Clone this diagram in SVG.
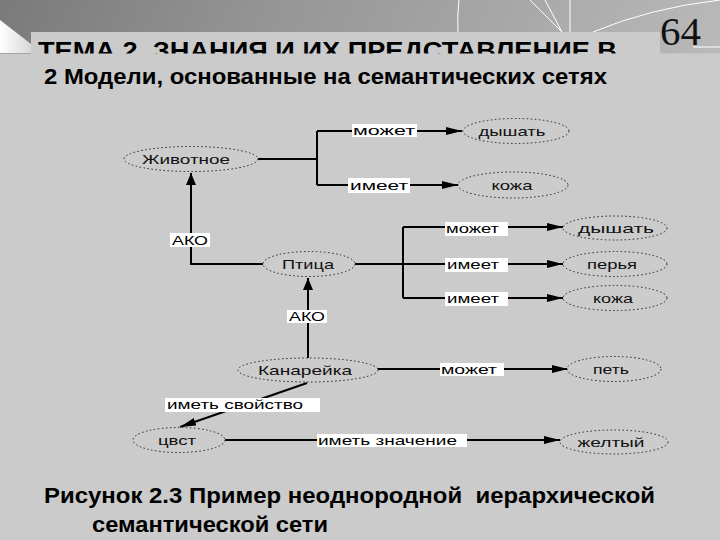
<svg xmlns="http://www.w3.org/2000/svg" width="720" height="540" viewBox="0 0 720 540">
<defs>
  <linearGradient id="bg" x1="0" y1="0" x2="1" y2="0.3">
    <stop offset="0" stop-color="#7a7a7a"/>
    <stop offset="0.35" stop-color="#959595"/>
    <stop offset="0.7" stop-color="#aaaaaa"/>
    <stop offset="1" stop-color="#bdbdbd"/>
  </linearGradient>
  <linearGradient id="tri" x1="0" y1="0" x2="1" y2="0">
    <stop offset="0" stop-color="#ffffff"/>
    <stop offset="1" stop-color="#d8d8d8"/>
  </linearGradient>
  <marker id="arr" viewBox="0 0 16 8" refX="16" refY="4" markerWidth="16" markerHeight="8" markerUnits="userSpaceOnUse" orient="auto">
    <path d="M0,0 L16,4 L0,8 z" fill="#000"/>
  </marker>
  <marker id="ako" viewBox="0 0 12 10" refX="12" refY="5" markerWidth="12" markerHeight="10" markerUnits="userSpaceOnUse" orient="auto">
    <path d="M0,0 L12,5 L0,10 z" fill="#000"/>
  </marker>
  <style>
    .node ellipse { fill: #cccccc; stroke: #222; stroke-width: 1; stroke-dasharray: 1.5 2.5; }
    .nt { font-family: "Liberation Sans", Arial, sans-serif; font-size: 13px; fill: #111; text-anchor: middle; }
    .lbl rect { fill: #ffffff; }
    .lt { font-family: "Liberation Sans", Arial, sans-serif; font-size: 13px; fill: #000; }
    .edge { stroke: #000; stroke-width: 2; fill: none; }
    .hd { font-family: "Liberation Sans", Arial, sans-serif; font-weight: bold; fill: #000; }
  </style>
</defs>

<!-- background -->
<rect x="0" y="0" width="720" height="540" fill="url(#bg)"/>
<g stroke="#ffffff" stroke-width="1" fill="none">
  <path d="M459,0 Q457,16 458,32"/>
  <path d="M530,0 L562,32"/>
  <path d="M545,0 L562,32"/>
  <path d="M570,0 L570,32"/>
  <path d="M593,32 Q650,8 720,0"/>
  <path d="M693,47 H720"/>
</g>
<polygon points="0,20 31,44 31,53 0,53" fill="url(#tri)"/>
<rect x="31" y="32" width="629" height="22" fill="#cbcbcb"/>
<text class="hd" x="38" y="59" font-size="24" textLength="579" lengthAdjust="spacingAndGlyphs">ТЕМА 2. ЗНАНИЯ И ИХ ПРЕДСТАВЛЕНИЕ В</text>
<rect x="0" y="53.5" width="720" height="486.5" fill="#cbcbcb"/>
<text x="660" y="45" font-family="Liberation Serif, Times New Roman, serif" font-size="41" fill="#111">64</text>
<text class="hd" x="44" y="84" font-size="22" textLength="563" lengthAdjust="spacingAndGlyphs">2 Модели, основанные на семантических сетях</text>

<!-- connectors -->
<g id="connectors">
  <path class="edge" d="M257,159 H317 M317,131 V185"/>
  <path class="edge" d="M317,131 H462" marker-end="url(#arr)"/>
  <path class="edge" d="M317,185 H458" marker-end="url(#arr)"/>
  <path class="edge" d="M263,264 H191 V173" marker-end="url(#ako)"/>
  <path class="edge" d="M355,264 H403 M403,227 V298"/>
  <path class="edge" d="M403,227 H563" marker-end="url(#arr)"/>
  <path class="edge" d="M403,264 H563" marker-end="url(#arr)"/>
  <path class="edge" d="M403,298 H563" marker-end="url(#arr)"/>
  <path class="edge" d="M308,358 V278" marker-end="url(#ako)"/>
  <path class="edge" d="M377,369 H568" marker-end="url(#arr)"/>
  <path class="edge" d="M307,383 L180,427" stroke-width="1.5" marker-end="url(#arr)"/>
  <path class="edge" d="M225,440 H560" marker-end="url(#arr)"/>

  <g class="lbl">
    <rect x="352" y="124" width="65" height="13"/>
    <text class="lt" x="353" y="135" textLength="62" lengthAdjust="spacingAndGlyphs">может</text>
    <rect x="348" y="178" width="62" height="15"/>
    <text class="lt" x="350" y="189.5" textLength="58" lengthAdjust="spacingAndGlyphs">имеет</text>
    <rect x="170" y="233" width="40" height="14"/>
    <text class="lt" x="172" y="244.5" textLength="36" lengthAdjust="spacingAndGlyphs">АКО</text>
    <rect x="445" y="222" width="63" height="14"/>
    <text class="lt" x="446" y="233" textLength="53" lengthAdjust="spacingAndGlyphs">может</text>
    <rect x="445" y="258" width="63" height="14"/>
    <text class="lt" x="447" y="269" textLength="52" lengthAdjust="spacingAndGlyphs">имеет</text>
    <rect x="445" y="292" width="63" height="14"/>
    <text class="lt" x="447" y="303" textLength="52" lengthAdjust="spacingAndGlyphs">имеет</text>
    <rect x="287" y="310" width="40" height="13"/>
    <text class="lt" x="289" y="321" textLength="36" lengthAdjust="spacingAndGlyphs">АКО</text>
    <rect x="440" y="363" width="64" height="13"/>
    <text class="lt" x="441" y="373.5" textLength="56" lengthAdjust="spacingAndGlyphs">может</text>
    <rect x="165" y="398" width="155" height="14"/>
    <text class="lt" x="167" y="409" textLength="136" lengthAdjust="spacingAndGlyphs">иметь свойство</text>
    <rect x="317" y="434" width="150" height="13"/>
    <text class="lt" x="318" y="445" textLength="139" lengthAdjust="spacingAndGlyphs">иметь значение</text>
  </g>
</g>

<!-- nodes -->
<g id="n-animal" class="node"><ellipse cx="191" cy="159" rx="67" ry="12.5"/><text class="nt" x="186" y="163.5" textLength="88" lengthAdjust="spacingAndGlyphs">Животное</text></g>
<g id="n-breathe1" class="node"><ellipse cx="516" cy="131" rx="53" ry="12.5"/><text class="nt" x="512" y="135.5" textLength="67" lengthAdjust="spacingAndGlyphs">дышать</text></g>
<g id="n-skin1" class="node"><ellipse cx="513" cy="185" rx="55" ry="13"/><text class="nt" x="512" y="189.5" textLength="41" lengthAdjust="spacingAndGlyphs">кожа</text></g>
<g id="n-bird" class="node"><ellipse cx="309" cy="264" rx="46" ry="12.5"/><text class="nt" x="308" y="268.5" textLength="52" lengthAdjust="spacingAndGlyphs">Птица</text></g>
<g id="n-breathe2" class="node"><ellipse cx="615" cy="228" rx="52" ry="12"/><text class="nt" x="616" y="232.5" textLength="76" lengthAdjust="spacingAndGlyphs">дышать</text></g>
<g id="n-feathers" class="node"><ellipse cx="615" cy="264" rx="52" ry="12.5"/><text class="nt" x="612" y="268.5" textLength="50" lengthAdjust="spacingAndGlyphs">перья</text></g>
<g id="n-skin2" class="node"><ellipse cx="615" cy="298" rx="52" ry="12.5"/><text class="nt" x="613" y="302.5" textLength="40" lengthAdjust="spacingAndGlyphs">кожа</text></g>
<g id="n-canary" class="node"><ellipse cx="308" cy="370" rx="70" ry="12"/><text class="nt" x="305" y="374.5" textLength="94" lengthAdjust="spacingAndGlyphs">Канарейка</text></g>
<g id="n-sing" class="node"><ellipse cx="614" cy="369" rx="47" ry="12.5"/><text class="nt" x="611" y="373.5" textLength="36" lengthAdjust="spacingAndGlyphs">петь</text></g>
<g id="n-color" class="node"><ellipse cx="179" cy="440" rx="46" ry="12.5"/><text class="nt" x="177" y="444.5" textLength="38" lengthAdjust="spacingAndGlyphs">цвст</text></g>
<g id="n-yellow" class="node"><ellipse cx="614" cy="442" rx="54" ry="12"/><text class="nt" x="611" y="446.5" textLength="67" lengthAdjust="spacingAndGlyphs">желтый</text></g>

<!-- caption -->
<text class="hd" x="44" y="503" font-size="22" textLength="611" lengthAdjust="spacingAndGlyphs" xml:space="preserve">Рисунок 2.3 Пример неоднородной  иерархической</text>
<text class="hd" x="92" y="532" font-size="22" textLength="236" lengthAdjust="spacingAndGlyphs">семантической сети</text>
</svg>
